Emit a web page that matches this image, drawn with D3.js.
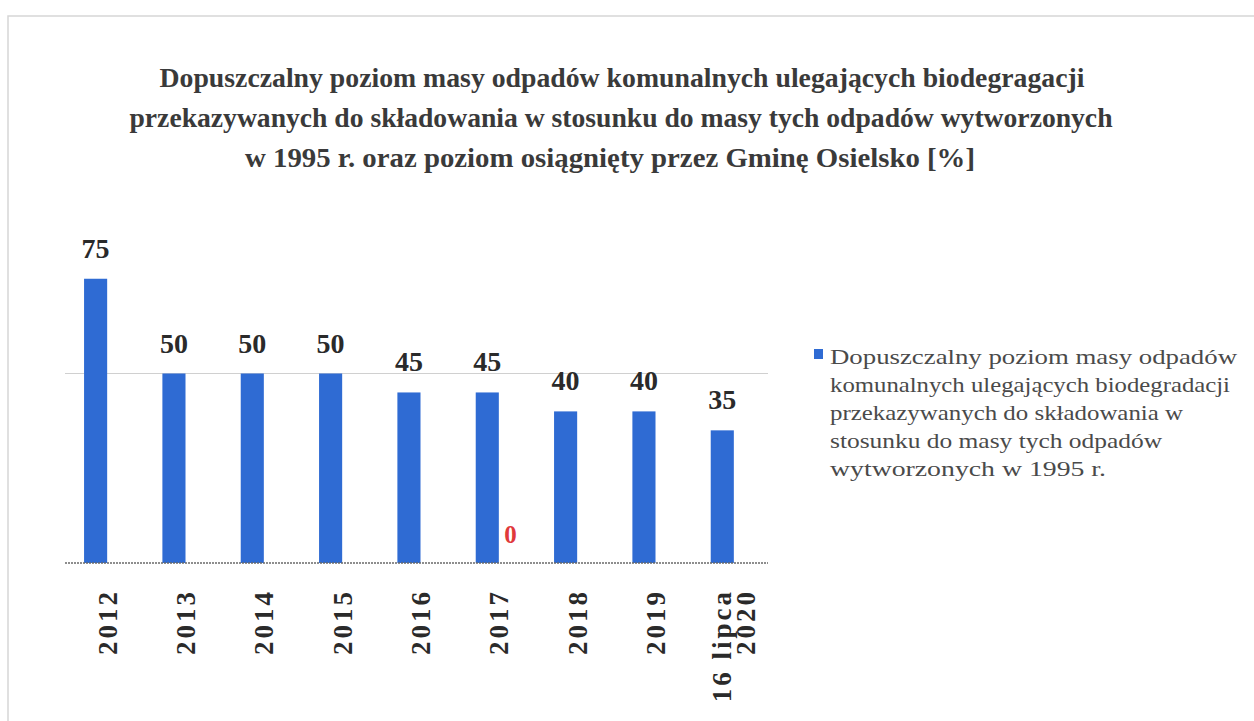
<!DOCTYPE html>
<html>
<head>
<meta charset="utf-8">
<script src="https://cdn.jsdelivr.net/npm/d3@7"></script>
<style>
  body { margin: 0; background: #fff; }
  #chart { width: 1254px; height: 721px; }
  text { font-family: "Liberation Serif", "Times New Roman", serif; }
</style>
</head>
<body>
<div id="chart"></div>
<script>
// data
var categories = ["2012", "2013", "2014", "2015", "2016", "2017", "2018", "2019", "16 lipca 2020"];
var allowedLevel = [75, 50, 50, 50, 45, 45, 40, 40, 35];      // dopuszczalny poziom
var achievedLevel = [null, null, null, null, null, 0, null, null, null]; // poziom osiągnięty (only 2017 shown)
var yTicks = [50];
var titleLines = [
    "Dopuszczalny poziom masy odpadów komunalnych ulegających biodegragacji",
    "przekazywanych do składowania w stosunku do masy tych odpadów wytworzonych",
    "w 1995 r. oraz poziom osiągnięty przez Gminę Osielsko [%]"
];
var legendLines = [
    "Dopuszczalny poziom masy odpadów",
    "komunalnych ulegających biodegradacji",
    "przekazywanych do składowania w",
    "stosunku do masy tych  odpadów",
    "wytworzonych w 1995 r."
];

var width = 1254, height = 721;
var margin = {top: 184, left: 68, right: 481, bottom: 158};

var svg = d3.select("#chart")
    .append("svg")
    .attr("width", width)
    .attr("height", height);

// chart area frame (faint, like the scan)
svg.append("rect")
    .attr("x", 8).attr("y", 16)
    .attr("width", 1300).attr("height", 800)
    .attr("fill", "none")
    .attr("stroke", "#d6d6d6")
    .attr("stroke-width", 1.5);

var xScale = d3.scaleBand()
    .domain(categories)
    .range([margin.left, width - margin.right])
    .paddingInner(0.41)
    .paddingOuter(0.205);

var xInner = d3.scaleBand()
    .domain(["allowed", "achieved"])
    .range([0, xScale.bandwidth()]);

var yScale = d3.scaleLinear()
    .domain([0, 100])
    .range([height - margin.bottom, margin.top]);

var y0 = yScale(0);

// gridline
svg.selectAll(".grid")
    .data(yTicks)
    .enter()
    .append("line")
    .attr("class", "grid")
    .attr("x1", 65).attr("x2", 768)
    .attr("y1", function(d) { return yScale(d); })
    .attr("y2", function(d) { return yScale(d); })
    .attr("stroke", "#d0d0d0")
    .attr("stroke-width", 1.2);

var rows = categories.map(function(c, i) {
    return {cat: c, allowed: allowedLevel[i], achieved: achievedLevel[i]};
});

// blue bars
svg.selectAll(".bar")
    .data(rows)
    .enter()
    .append("rect")
    .attr("class", "bar")
    .attr("x", function(d) { return xScale(d.cat) + xInner("allowed"); })
    .attr("width", xInner.bandwidth())
    .attr("y", function(d) { return yScale(d.allowed); })
    .attr("height", function(d) { return y0 - yScale(d.allowed); })
    .attr("fill", "#2f6bd3");

// value labels
svg.selectAll(".val")
    .data(rows)
    .enter()
    .append("text")
    .attr("class", "val")
    .attr("x", function(d) { return xScale(d.cat) + xInner("allowed") + xInner.bandwidth() / 2; })
    .attr("y", function(d) { return yScale(d.allowed) - 21; })
    .attr("text-anchor", "middle")
    .style("font-size", "28px")
    .style("font-weight", "bold")
    .attr("fill", "#2a2a2a")
    .text(function(d) { return d.allowed; });

// achieved series: only the red zero label
var achievedRows = rows.filter(function(d) { return d.achieved !== null; });
svg.selectAll(".ach")
    .data(achievedRows)
    .enter()
    .append("rect")
    .attr("class", "ach")
    .attr("x", function(d) { return xScale(d.cat) + xInner("achieved"); })
    .attr("width", xInner.bandwidth())
    .attr("y", function(d) { return yScale(d.achieved); })
    .attr("height", function(d) { return y0 - yScale(d.achieved); })
    .attr("fill", "#e03a3a");

svg.selectAll(".achval")
    .data(achievedRows)
    .enter()
    .append("text")
    .attr("class", "achval")
    .attr("x", function(d) { return xScale(d.cat) + xInner("achieved") + xInner.bandwidth() / 2; })
    .attr("y", function(d) { return yScale(d.achieved) - 20; })
    .attr("text-anchor", "middle")
    .style("font-size", "25px")
    .style("font-weight", "bold")
    .attr("fill", "#e0393b")
    .text(function(d) { return d.achieved; });

// x axis
var xAxis = svg.append("g")
    .attr("transform", "translate(0," + y0 + ")")
    .call(d3.axisBottom(xScale).tickSize(0).tickPadding(0));

xAxis.select(".domain")
    .attr("d", "M65,0H768")
    .attr("stroke", "#6a6a6a")
    .attr("stroke-width", 1.5)
    .attr("stroke-dasharray", "2,1");

xAxis.selectAll(".tick text").remove();
xAxis.selectAll(".tick").each(function(d) {
    var words = d.indexOf(" ") > 0 ? [d.slice(0, d.lastIndexOf(" ")), d.slice(d.lastIndexOf(" ") + 1)] : [d];
    var t = d3.select(this).append("text")
        .attr("transform", "translate(0,26) rotate(-90)")
        .attr("text-anchor", "end")
        .attr("fill", "#2a2a2a")
        .style("font-size", "27px")
        .style("font-weight", "bold")
        .style("letter-spacing", "3px");
    words.forEach(function(w, i) {
        t.append("tspan")
            .attr("x", 0)
            .attr("dy", i === 0 ? (0.35 - (words.length - 1) * 0.45) + "em" : "0.9em")
            .text(w);
    });
});

// title
var titleWidths = [925, 983, 730];
var titleCenters = [622, 621, 610];
svg.selectAll(".title")
    .data(titleLines)
    .enter()
    .append("text")
    .attr("class", "title")
    .attr("x", function(d, i) { return titleCenters[i]; })
    .attr("y", function(d, i) { return 87 + i * 40; })
    .attr("text-anchor", "middle")
    .attr("textLength", function(d, i) { return titleWidths[i]; })
    .attr("lengthAdjust", "spacingAndGlyphs")
    .style("font-size", "27px")
    .style("font-weight", "bold")
    .attr("fill", "#3a3a3a")
    .text(function(d) { return d; });

// legend
var legend = svg.append("g").attr("transform", "translate(814,0)");
legend.append("rect")
    .attr("x", 0).attr("y", 349)
    .attr("width", 9).attr("height", 10)
    .attr("fill", "#2f6bd3");

var legendWidths = [407, 400, 353, 332, 276];
legend.selectAll(".leg")
    .data(legendLines)
    .enter()
    .append("text")
    .attr("class", "leg")
    .attr("x", 16)
    .attr("y", function(d, i) { return 364 + i * 28; })
    .attr("textLength", function(d, i) { return legendWidths[i]; })
    .attr("lengthAdjust", "spacingAndGlyphs")
    .style("font-size", "22px")
    .attr("fill", "#4a4a4a")
    .text(function(d) { return d; });
</script>
</body>
</html>
